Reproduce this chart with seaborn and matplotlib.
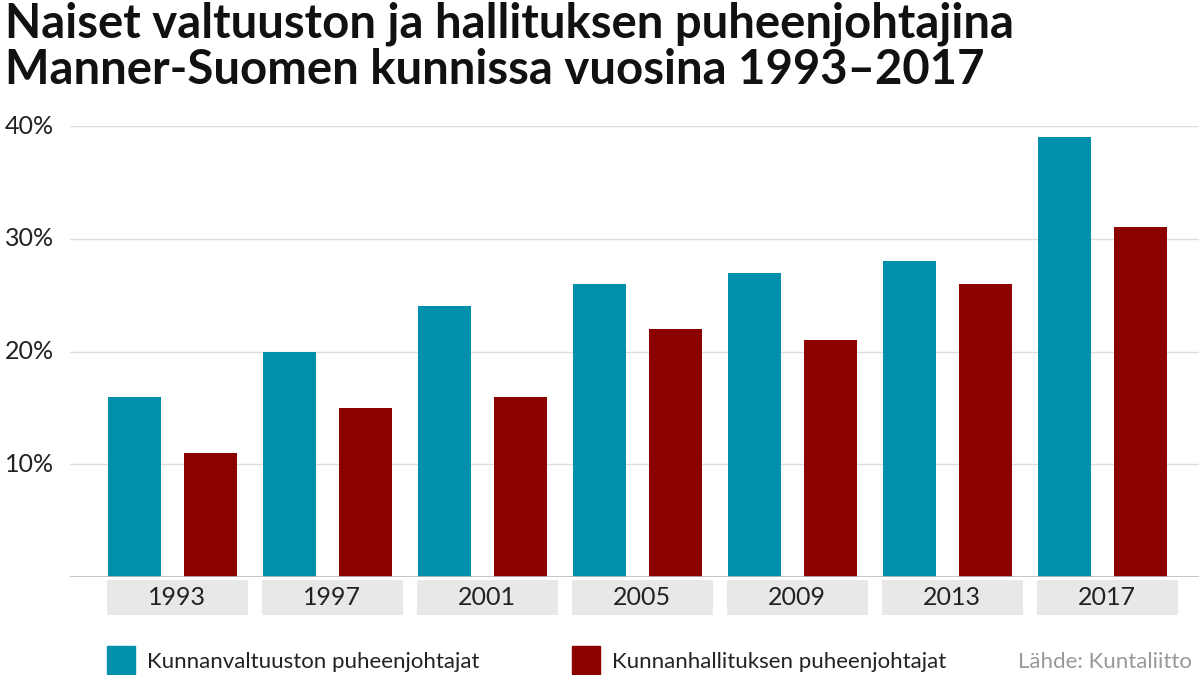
import matplotlib
matplotlib.use("Agg")
import matplotlib.pyplot as plt
import matplotlib.transforms as mtransforms
from matplotlib.patches import Rectangle
import pandas as pd
import seaborn as sns

# Data
years = ["1993", "1997", "2001", "2005", "2009", "2013", "2017"]
valtuusto = [16, 20, 24, 26, 27, 28, 39]
hallitus = [11, 15, 16, 22, 21, 26, 31]
series = ["Kunnanvaltuuston puheenjohtajat", "Kunnanhallituksen puheenjohtajat"]
colors = ["#0090ac", "#8c0000"]

df = pd.DataFrame({
    "year": years * 2,
    "value": valtuusto + hallitus,
    "series": [series[0]] * len(years) + [series[1]] * len(years),
})

plt.rcParams["font.family"] = "Lato"
fig = plt.figure(figsize=(11.99, 6.75), dpi=100)
ax = fig.add_axes([70 / 1199, 1 - 577 / 675, 1 - 70 / 1199, 451 / 675])

sns.barplot(data=df, x="year", y="value", hue="series", palette=colors,
            width=0.99, gap=0.31, ax=ax, legend=False, saturation=1)

ax.set_xlim(-0.661, 6.623)
ax.set_ylim(0, 40)
ax.set_yticks([10, 20, 30, 40])
ax.set_yticklabels([])
ax.grid(axis="y", color="#dddddd", linewidth=1)
ax.set_axisbelow(True)
for s in ax.spines.values():
    s.set_visible(False)
ax.axhline(0, color="#bbbbbb", linewidth=1.2)
ax.tick_params(length=0)
ax.set_xticklabels([])
ax.set_xlabel("")
ax.set_ylabel("")

# y labels at far left
for v in [10, 20, 30, 40]:
    y = ax.transData.transform((0, v))[1]
    fig.text(5 / 1199, fig.transFigure.inverted().transform((0, y))[1],
             f"{v}%", fontsize=18, va="center", ha="left", color="#222222")

# year boxes below baseline
trans = mtransforms.blended_transform_factory(ax.transData, ax.transAxes)
for i, yr in enumerate(years):
    ax.add_patch(Rectangle((i - 0.423, -0.084), 0.91, 0.077, transform=trans,
                           color="#e8e8e8", clip_on=False, linewidth=0))
    ax.text(i + 0.03, -0.046, yr, transform=trans, ha="center", va="center",
            fontsize=18, color="#222222")

fig.text(5 / 1199, 1 - 2 / 675,
         "Naiset valtuuston ja hallituksen puheenjohtajina\nManner-Suomen kunnissa vuosina 1993–2017",
         fontsize=34, fontweight="bold", va="top", ha="left", color="#111111",
         linespacing=1.05)

# legend
for x0, lab, c in [(107, series[0], colors[0]), (572, series[1], colors[1])]:
    fig.patches.append(Rectangle((x0 / 1199, 1 - 675 / 675 + 0.002), 28 / 1199, 28 / 675,
                                 transform=fig.transFigure, color=c))
    fig.text((x0 + 40) / 1199, 1 - 662 / 675, lab, fontsize=16, va="center",
             ha="left", color="#222222")
fig.text(1192 / 1199, 1 - 662 / 675, "Lähde: Kuntaliitto", fontsize=16,
         va="center", ha="right", color="#999999")

fig.savefig("out.png", dpi=100)
